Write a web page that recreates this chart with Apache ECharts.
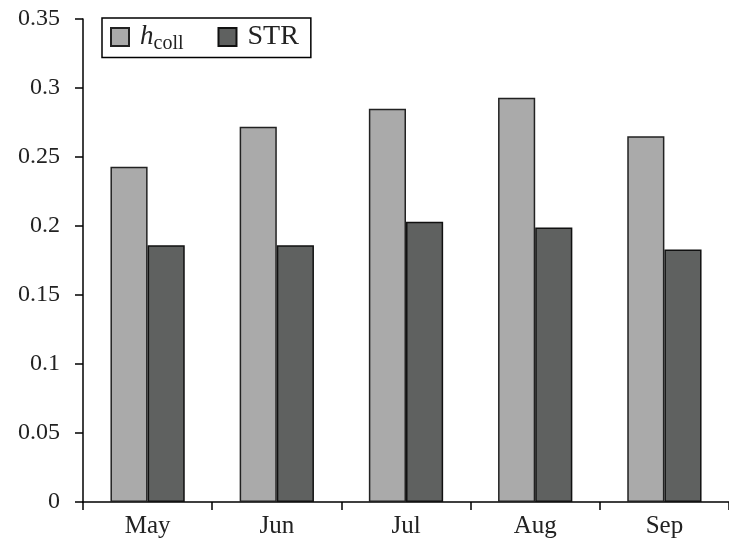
<!DOCTYPE html>
<html><head><meta charset="utf-8">
<script src="https://cdn.jsdelivr.net/npm/echarts@6/dist/echarts.min.js"></script>
<style>html,body{margin:0;padding:0;background:#fff}#c{width:729px;height:540px}</style>
</head><body><div id="c"></div>
<script>
const categories = ['May', 'Jun', 'Jul', 'Aug', 'Sep'];
const hcoll = [0.243, 0.272, 0.285, 0.293, 0.265];
const str = [0.186, 0.186, 0.203, 0.199, 0.183];
const yTicks = [0, 0.05, 0.1, 0.15, 0.2, 0.25, 0.3, 0.35];

const FONT = '"Liberation Serif", "DejaVu Serif", serif';
const chart = echarts.init(document.getElementById('c'));
chart.setOption({
  animation: false,
  backgroundColor: '#fff',
  grid: { left: 83, width: 651, top: 19, bottom: 38, containLabel: false },
  legend: {
    left: 102, top: 18,
    orient: 'horizontal',
    itemWidth: 18, itemHeight: 18, itemGap: 34,
    borderColor: '#000', borderWidth: 1.5,
    padding: [5, 12, 4, 8],
    icon: 'rect',
    textStyle: {
      fontFamily: FONT, fontSize: 28, color: '#222', padding: [0, 0, 0, 6],
      rich: {
        i: { fontFamily: FONT, fontStyle: 'italic', fontSize: 27, color: '#222' },
        s: { fontFamily: FONT, fontSize: 20, color: '#222', padding: [13, 0, 0, 0] }
      }
    },
    formatter: function (n) { return n === 'hcoll' ? '{i|h}{s|coll}' : n; },
    data: ['hcoll', 'STR']
  },
  xAxis: {
    type: 'category', data: categories,
    axisLine: { lineStyle: { color: '#000', width: 1.5 } },
    axisTick: { show: true, length: 8, lineStyle: { color: '#000', width: 1.5 } },
    axisLabel: { fontFamily: FONT, fontSize: 25, color: '#222', margin: 12 }
  },
  yAxis: {
    type: 'value', min: yTicks[0], max: yTicks[yTicks.length - 1], interval: 0.05,
    axisLine: { show: true, lineStyle: { color: '#000', width: 1.5 } },
    axisTick: { show: true, length: 8, lineStyle: { color: '#000', width: 1.5 } },
    splitLine: { show: false },
    axisLabel: { fontFamily: FONT, fontSize: 24, color: '#222', margin: 23,
      formatter: v => String(+v.toFixed(2)) }
  },
  series: [
    { name: 'hcoll', type: 'bar', data: hcoll, barGap: '0%', barCategoryGap: '42.5%',
      itemStyle: { color: '#aaaaaa', borderColor: '#222', borderWidth: 1.5 } },
    { name: 'STR', type: 'bar', data: str,
      itemStyle: { color: '#5f6160', borderColor: '#111', borderWidth: 1.5 } }
  ]
});
</script></body></html>
